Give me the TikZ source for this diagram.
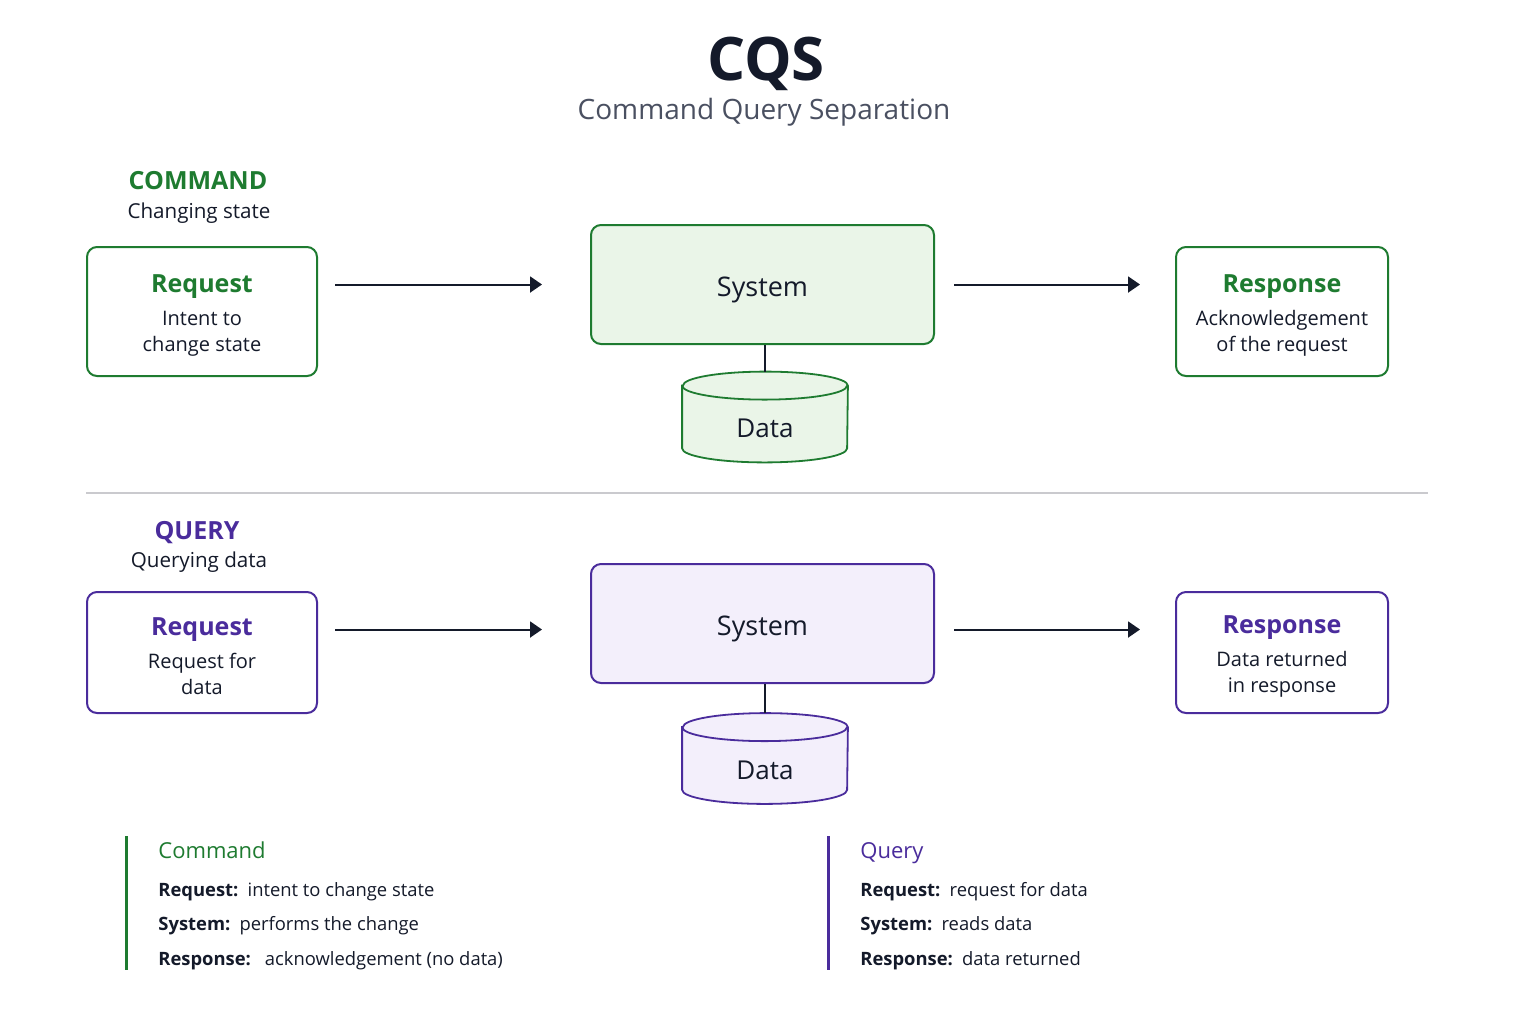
\documentclass[tikz,border=0pt]{standalone}
\usepackage{fontspec}
\setmainfont{Open Sans}
\usepackage{tikz}
\usetikzlibrary{arrows.meta}

\definecolor{cmdgreen}{HTML}{1E7B30}
\definecolor{cmdfill}{HTML}{EAF5E8}
\definecolor{qrypurple}{HTML}{4A2C9C}
\definecolor{qryfill}{HTML}{F3EFFB}
\definecolor{inkdark}{HTML}{141A2A}
\definecolor{subgray}{HTML}{4A5061}
\definecolor{sepgray}{HTML}{CACACE}

\tikzset{
  box/.style={draw=#1, line width=1pt, rounded corners=5pt, fill=white, align=center,
    text=inkdark, font=\fontsize{10}{13}\selectfont, inner sep=0pt},
  sysbox/.style 2 args={draw=#1, fill=#2, line width=1pt, rounded corners=5pt,
    minimum width=171.5pt, minimum height=59.5pt, text=inkdark,
    text height=12pt, text depth=0pt, font=\fontsize{13.5}{16}\selectfont},
  drum/.style={minimum width=82.5pt, minimum height=45pt, inner sep=0pt},
  flow/.style={draw=inkdark, line width=1pt, -{Triangle[length=6pt,width=8pt]}},
  link/.style={draw=inkdark, line width=1pt},
  legtitle/.style={anchor=base west, inner sep=0pt, font=\fontsize{11}{13}\selectfont, text=#1},
  legline/.style={anchor=base west, inner sep=0pt, font=\fontsize{9.2}{12}\selectfont, text=inkdark},
}

\newcommand{\boxtitle}[2]{\rule{0pt}{12.5pt}\textcolor{#1}{\fontsize{12.5}{13}\selectfont\bfseries #2}\\[3.5pt]}

\newcommand{\drawdrum}[3]{%
  \filldraw[draw=#2, fill=#3, line width=0.9pt] ([yshift=-7pt]#1.north west)
    -- ([yshift=7pt]#1.south west) arc[start angle=180, end angle=360, x radius=41.25pt, y radius=7pt]
    -- ([yshift=-7pt]#1.north east) arc[start angle=0, end angle=180, x radius=41.25pt, y radius=7pt]
    -- cycle;
  \draw[draw=#2, line width=0.9pt] ([yshift=-7pt]#1.north west)
    arc[start angle=180, end angle=360, x radius=41.25pt, y radius=7pt];
}

\begin{document}
\begin{tikzpicture}[x=0.5pt, y=-0.5pt]
\fill[white] (0,0) rectangle (1536,1024);
\useasboundingbox (0,0) rectangle (1536,1024);

% title
\node[anchor=base, font=\fontsize{30}{36}\selectfont\bfseries, text=inkdark] (title) at (766,80) {CQS};
\node[anchor=base, font=\fontsize{14}{17}\selectfont, text=subgray] (subtitle) at (764,119) {Command Query Separation};

% command row
\node[anchor=base, font=\fontsize{12.5}{15}\selectfont\bfseries, text=cmdgreen] (chead) at (198,189) {COMMAND};
\node[anchor=base, font=\fontsize{10.3}{13}\selectfont, text=inkdark] (csub) at (199,218) {Changing state};

\node[box=cmdgreen, minimum width=115pt, minimum height=64.5pt] (creq) at (202,311.5)
  {\boxtitle{cmdgreen}{Request}Intent to\\change state};
\node[sysbox={cmdgreen}{cmdfill}] (csys) at (762.5,284.5) {System};
\node[box=cmdgreen, minimum width=106pt, minimum height=64.5pt] (cres) at (1282,311.5)
  {\boxtitle{cmdgreen}{Response}Acknowledgement\\of the request};

\node[drum] (cdata) at (765,417) {};
\drawdrum{cdata}{cmdgreen}{cmdfill}
\node[font=\fontsize{13}{16}\selectfont, text=inkdark] (cdatatxt) at (765,428) {Data};

\draw[flow, shorten <=8.5pt, shorten >=24pt] (creq.east |- csys.west) -- (csys.west);
\draw[flow, shorten <=9.5pt, shorten >=17.5pt] (csys.east) -- (cres.west |- csys.east);
\draw[link] (cdata.north |- csys.south) -- (cdata.north);

% separator
\draw[sepgray, line width=0.8pt] (86,493) -- (1428,493);

% query row
\node[anchor=base, font=\fontsize{12.5}{15}\selectfont\bfseries, text=qrypurple] (qhead) at (197,539) {QUERY};
\node[anchor=base, font=\fontsize{10.3}{13}\selectfont, text=inkdark] (qsub) at (199,567) {Querying data};

\node[box=qrypurple, minimum width=115pt, minimum height=60.5pt] (qreq) at (202,652.5)
  {\boxtitle{qrypurple}{Request}Request for\\data};
\node[sysbox={qrypurple}{qryfill}] (qsys) at (762.5,623.5) {System};
\node[box=qrypurple, minimum width=106pt, minimum height=60.5pt] (qres) at (1282,652.5)
  {\boxtitle{qrypurple}{Response}Data returned\\in response};

\node[drum] (qdata) at (765,758.5) {};
\drawdrum{qdata}{qrypurple}{qryfill}
\node[font=\fontsize{13}{16}\selectfont, text=inkdark] (qdatatxt) at (765,770) {Data};

\draw[flow, shorten <=8.5pt, shorten >=24pt] ([yshift=-3pt]qreq.east |- qsys.west) -- ([yshift=-3pt]qsys.west);
\draw[flow, shorten <=9.5pt, shorten >=17.5pt] ([yshift=-3pt]qsys.east) -- ([yshift=-3pt]qres.west |- qsys.east);
\draw[link] (qdata.north |- qsys.south) -- (qdata.north);

% legend
\draw[cmdgreen, line width=1.5pt] (126,836) -- (126,970);
\node[legtitle=cmdgreen] (clegA) at (158,858) {Command};
\node[legline] (clegB) at (158,896) {\textbf{Request:}\enspace intent to change state};
\node[legline] (clegC) at (158,930) {\textbf{System:}\enspace performs the change};
\node[legline] (clegD) at (158,965) {\textbf{Response:}\enspace\ acknowledgement (no data)};

\draw[qrypurple, line width=1.5pt] (828,836) -- (828,970);
\node[legtitle=qrypurple] (qlegA) at (860,858) {Query};
\node[legline] (qlegB) at (860,896) {\textbf{Request:}\enspace request for data};
\node[legline] (qlegC) at (860,930) {\textbf{System:}\enspace reads data};
\node[legline] (qlegD) at (860,965) {\textbf{Response:}\enspace data returned};
\end{tikzpicture}
\end{document}
